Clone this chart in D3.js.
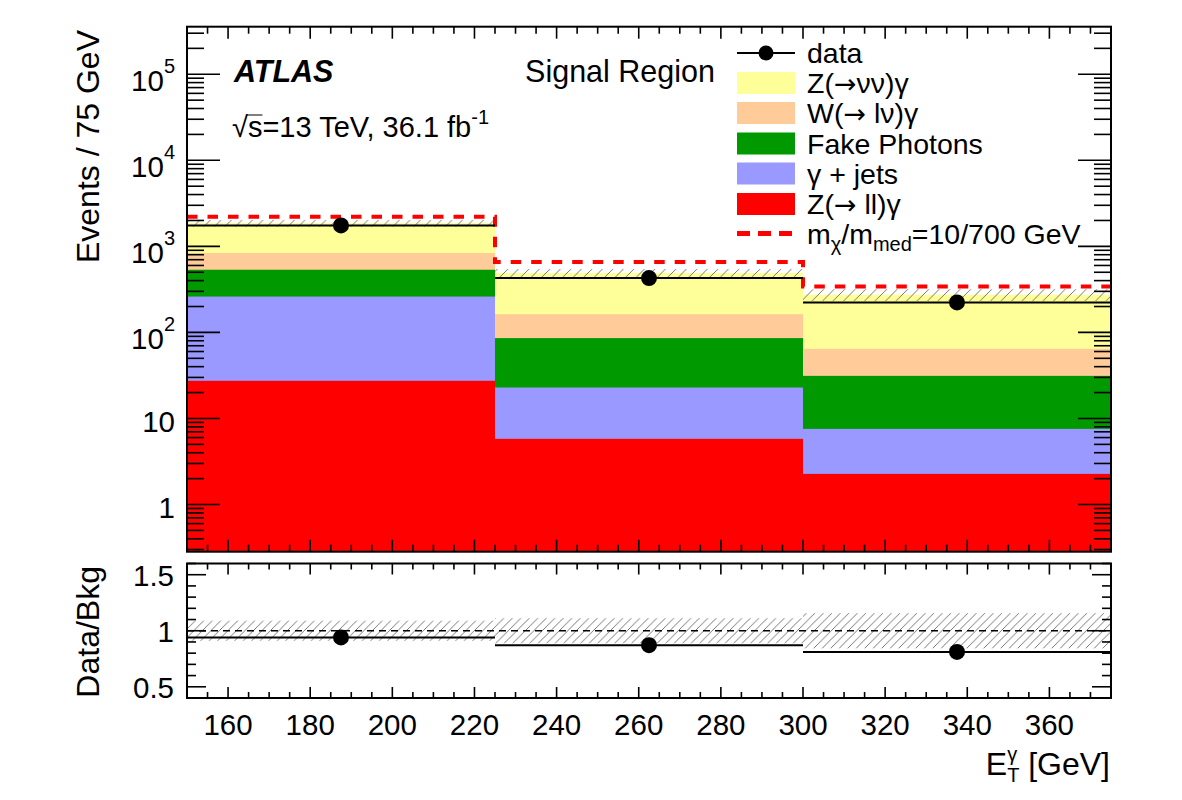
<!DOCTYPE html>
<html>
<head>
<meta charset="utf-8">
<script src="https://cdn.jsdelivr.net/npm/d3@7"></script>
<style>
  html, body { margin: 0; padding: 0; background: #fff; }
  svg { display: block; }
  text { font-family: "Liberation Sans", Arial, Helvetica, sans-serif; fill: #000; }
</style>
</head>
<body>
<script>
// ---------------- data ----------------
const binEdges = [150, 225, 300, 375];
const dataCounts = [1750, 428, 223];
const zllGamma = [27.4, 5.8, 2.27];        // Z(-> ll)gamma
const gammaJets = [233.6, 17.1, 5.3];      // gamma + jets
const fakePhotons = [274, 63.0, 23.7];     // Fake photons
const wlnuGamma = [301, 77.1, 33.2];       // W(-> l nu)gamma
const znunuGamma = [1024, 328, 210.5];     // Z(-> nu nu)gamma
const signalPlusBkg = [2208, 657, 342];    // m_chi/m_med = 10/700 GeV
const bkgRelUnc = [0.09, 0.112, 0.157];
const xTickValues = [160, 180, 200, 220, 240, 260, 280, 300, 320, 340, 360];
const yMainTickExps = [0, 1, 2, 3, 4, 5];
const yRatioTicks = [0.5, 1, 1.5];
// legend labels: [before arrow, arrow?, after arrow]
const legendLabels = [
  ["data"],
  ["Z(", "\u2192", "\u03bd\u03bd)\u03b3"],
  ["W(", "\u2192", " l\u03bd)\u03b3"],
  ["Fake Photons"],
  ["\u03b3 + jets"],
  ["Z(", "\u2192", " ll)\u03b3"]
];

// ---------------- layout ----------------
const W = 1182, H = 800;
const L = 187, R = 1111;
const mainTop = 26.7, mainBot = 551.7;
const ratTop = 563.5, ratBot = 698;
const FONT = 29.5;

const svg = d3.select("body").append("svg").attr("width", W).attr("height", H);

const x = d3.scaleLinear().domain([150, 375]).range([L, R]);
const y = d3.scaleLog().domain([0.283, 3.57e5]).range([mainBot, mainTop]);
const yr = d3.scaleLinear().domain([0.4, 1.6]).range([ratBot, ratTop]);

const colors = {
  zll: "#ff0000", gj: "#9999ff", fake: "#009900", wln: "#ffcc99", znn: "#ffff99"
};

const defs = svg.append("defs");
defs.append("clipPath").attr("id", "clipMain").append("rect")
  .attr("x", L).attr("y", mainTop).attr("width", R - L).attr("height", mainBot - mainTop);
defs.append("clipPath").attr("id", "clipRat").append("rect")
  .attr("x", L).attr("y", ratTop).attr("width", R - L).attr("height", ratBot - ratTop);
function hatch(id, s) {
  const p = defs.append("pattern").attr("id", id).attr("patternUnits", "userSpaceOnUse")
    .attr("width", s).attr("height", s);
  p.append("path").attr("d", `M0,${s} L${s},0 M${-s/2},${s/2} L${s/2},${-s/2} M${s/2},${s*1.5} L${s*1.5},${s/2}`)
    .attr("stroke", "#555").attr("stroke-width", 0.8);
}
hatch("hatchMain", 10.5);
hatch("hatchRat", 8.5);

// ---------------- stacked histogram ----------------
const bins = dataCounts.map((d, i) => ({ i, x0: binEdges[i], x1: binEdges[i + 1] }));
const stackOrder = [
  { key: "zll", vals: zllGamma },
  { key: "gj", vals: gammaJets },
  { key: "fake", vals: fakePhotons },
  { key: "wln", vals: wlnuGamma },
  { key: "znn", vals: znunuGamma }
];
const gMain = svg.append("g").attr("clip-path", "url(#clipMain)");
const totals = bins.map(() => 0);
const layers = stackOrder.map(s => {
  return bins.map((b, i) => {
    const lo = totals[i];
    totals[i] += s.vals[i];
    return { key: s.key, x0: b.x0, x1: b.x1, lo, hi: totals[i] };
  });
});
layers.slice().reverse().forEach(layer => {
  gMain.selectAll(null).data(layer).enter().append("rect")
    .attr("x", d => x(d.x0))
    .attr("width", d => x(d.x1) - x(d.x0))
    .attr("y", d => y(d.hi))
    .attr("height", d => mainBot - y(d.hi))
    .attr("fill", d => colors[d.key]);
});

// uncertainty band on main
gMain.selectAll(null).data(bins).enter().append("rect")
  .attr("x", d => x(d.x0)).attr("width", d => x(d.x1) - x(d.x0))
  .attr("y", d => y(totals[d.i] * (1 + bkgRelUnc[d.i])))
  .attr("height", d => y(totals[d.i] * (1 - bkgRelUnc[d.i])) - y(totals[d.i] * (1 + bkgRelUnc[d.i])))
  .attr("fill", "url(#hatchMain)");

// signal step line
const sigPts = [];
bins.forEach((b, i) => { sigPts.push([x(b.x0), y(signalPlusBkg[i])]); sigPts.push([x(b.x1), y(signalPlusBkg[i])]); });
gMain.append("path").attr("d", d3.line()(sigPts))
  .attr("fill", "none").attr("stroke", "#ff0000").attr("stroke-width", 4)
  .attr("stroke-dasharray", "10.5,10");

// data
gMain.selectAll(null).data(bins).enter().append("line")
  .attr("x1", d => x(d.x0)).attr("x2", d => x(d.x1))
  .attr("y1", d => y(dataCounts[d.i])).attr("y2", d => y(dataCounts[d.i]))
  .attr("stroke", "#000").attr("stroke-width", 2);
gMain.selectAll(null).data(bins).enter().append("circle")
  .attr("cx", d => x((d.x0 + d.x1) / 2)).attr("cy", d => y(dataCounts[d.i]))
  .attr("r", 8).attr("fill", "#000");

// ---------------- ratio panel ----------------
const gRat = svg.append("g").attr("clip-path", "url(#clipRat)");
gRat.selectAll(null).data(bins).enter().append("rect")
  .attr("x", d => x(d.x0)).attr("width", d => x(d.x1) - x(d.x0))
  .attr("y", d => yr(1 + bkgRelUnc[d.i]))
  .attr("height", d => yr(1 - bkgRelUnc[d.i]) - yr(1 + bkgRelUnc[d.i]))
  .attr("fill", "url(#hatchRat)");
gRat.append("line").attr("x1", L).attr("x2", R).attr("y1", yr(1)).attr("y2", yr(1))
  .attr("stroke", "#000").attr("stroke-width", 1.6).attr("stroke-dasharray", "7,5");
const ratio = bins.map((b, i) => dataCounts[i] / totals[i]);
gRat.selectAll(null).data(bins).enter().append("line")
  .attr("x1", d => x(d.x0)).attr("x2", d => x(d.x1))
  .attr("y1", d => yr(ratio[d.i])).attr("y2", d => yr(ratio[d.i]))
  .attr("stroke", "#000").attr("stroke-width", 2);
gRat.selectAll(null).data(bins).enter().append("circle")
  .attr("cx", d => x((d.x0 + d.x1) / 2)).attr("cy", d => yr(ratio[d.i]))
  .attr("r", 8).attr("fill", "#000");

// ---------------- axes / ticks ----------------
const axG = svg.append("g").attr("stroke", "#000");
function tickLine(x1, y1, x2, y2, w) {
  axG.append("line").attr("x1", x1).attr("y1", y1).attr("x2", x2).attr("y2", y2)
    .attr("stroke-width", w || 1.6);
}
// x ticks (all panels, top and bottom)
const xMinor = d3.range(150, 376, 5);
[[mainTop, mainBot, 12, 7], [ratTop, ratBot, 11, 6]].forEach(([t, b, maj, min]) => {
  xMinor.forEach(v => {
    const len = (v % 20 === 0) ? maj : min;
    const px = x(v);
    tickLine(px, b, px, b - len);
    tickLine(px, t, px, t + len);
  });
});
// main y ticks (log)
const yMinorVals = [];
for (let e = -1; e <= 5; e++) for (let k = 1; k <= 9; k++) {
  const v = k * Math.pow(10, e);
  if (v >= 0.283 && v <= 3.57e5) yMinorVals.push({ v, major: k === 1 });
}
yMinorVals.forEach(t => {
  const len = t.major ? 33 : 17;
  const py = y(t.v);
  tickLine(L, py, L + len, py);
  tickLine(R, py, R - len, py);
});
// ratio y ticks
d3.range(4, 17).map(k => k / 10).forEach(v => {
  const len = (Math.abs(v * 2 - Math.round(v * 2)) < 1e-6) ? 19 : 9;
  const py = yr(v);
  tickLine(L, py, L + len, py);
  tickLine(R, py, R - len, py);
});
// frames
[[mainTop, mainBot], [ratTop, ratBot]].forEach(([t, b]) => {
  svg.append("rect").attr("x", L).attr("y", t).attr("width", R - L).attr("height", b - t)
    .attr("fill", "none").attr("stroke", "#000").attr("stroke-width", 2);
});

// tick labels
const lab = svg.append("g");
xTickValues.forEach(v => {
  lab.append("text").attr("x", x(v)).attr("y", 735).attr("text-anchor", "middle")
    .attr("font-size", FONT).text(v);
});
yMainTickExps.forEach(e => {
  const py = y(Math.pow(10, e));
  const t = lab.append("text").attr("x", 175).attr("text-anchor", "end").attr("font-size", FONT);
  if (e === 0) { t.attr("y", py + 13).text("1"); }
  else if (e === 1) { t.attr("y", py + 14).text("10"); }
  else {
    t.attr("y", py + 17);
    t.append("tspan").text("10");
    t.append("tspan").attr("dy", -18).attr("font-size", 20).text(e);
  }
});
yRatioTicks.forEach(v => {
  lab.append("text").attr("x", 174).attr("y", yr(v) + 11).attr("text-anchor", "end")
    .attr("font-size", FONT).text(v === 1 ? "1" : v);
});

// axis titles
lab.append("text").attr("transform", "translate(99,30) rotate(-90)").attr("text-anchor", "end")
  .attr("font-size", 32).text("Events / 75 GeV");
lab.append("text").attr("transform", "translate(99,566) rotate(-90)").attr("text-anchor", "end")
  .attr("font-size", 32).text("Data/Bkg");
const gev = lab.append("text").attr("x", 1110).attr("y", 775).attr("text-anchor", "end")
  .attr("font-size", 32).text("[GeV]");
const gevW = gev.node().getComputedTextLength();
const subX = 1110 - gevW - 21;
lab.append("text").attr("x", subX).attr("y", 782).attr("font-size", 20).text("T");
lab.append("text").attr("x", subX).attr("y", 761).attr("font-size", 20).text("\u03b3");
lab.append("text").attr("x", subX).attr("y", 775).attr("text-anchor", "end")
  .attr("font-size", 32).text("E");

// ---------------- annotations ----------------
lab.append("text").attr("x", 234).attr("y", 82).attr("font-size", 30.5)
  .attr("font-weight", "bold").attr("font-style", "italic").text("ATLAS");
lab.append("text").attr("x", 715).attr("y", 82).attr("text-anchor", "end")
  .attr("font-size", 30.5).text("Signal Region");
const sq = lab.append("text").attr("x", 232).attr("y", 137).attr("font-size", 29);
sq.append("tspan").text("\u221as=13 TeV, 36.1 fb");
sq.append("tspan").attr("dy", -13).attr("font-size", 20).text("-1");
try {
  const n = sq.node();
  const s0 = n.getStartPositionOfChar(1), s1 = n.getEndPositionOfChar(1);
  lab.append("line").attr("x1", s0.x - 1).attr("x2", s1.x).attr("y1", 115).attr("y2", 115)
    .attr("stroke", "#000").attr("stroke-width", 1);
} catch (e) {}

// ---------------- legend ----------------
const leg = svg.append("g");
const legX0 = 737, legX1 = 795, legTextX = 807;
const rowY = [53, 83, 113, 143.5, 173.5, 204, 233.5];
const legColors = [null, colors.znn, colors.wln, colors.fake, colors.gj, colors.zll];
legendLabels.forEach((parts, i) => {
  const cy = rowY[i];
  if (i === 0) {
    leg.append("line").attr("x1", legX0).attr("x2", legX1).attr("y1", cy).attr("y2", cy)
      .attr("stroke", "#000").attr("stroke-width", 2);
    leg.append("circle").attr("cx", (legX0 + legX1) / 2).attr("cy", cy).attr("r", 7.5).attr("fill", "#000");
  } else {
    leg.append("rect").attr("x", legX0).attr("y", cy - 11).attr("width", legX1 - legX0).attr("height", 22)
      .attr("fill", legColors[i]);
  }
  const t = leg.append("text").attr("x", legTextX).attr("y", cy + 10).attr("font-size", 28.5);
  parts.forEach((p, k) => {
    const ts = t.append("tspan").text(p);
    if (p === "\u2192") ts.attr("font-family", "DejaVu Sans").attr("font-size", 27);
  });
});
// signal legend entry
leg.append("line").attr("x1", legX0).attr("x2", legX1).attr("y1", rowY[6]).attr("y2", rowY[6])
  .attr("stroke", "#ff0000").attr("stroke-width", 5).attr("stroke-dasharray", "13,8");
const sl = leg.append("text").attr("x", legTextX).attr("y", rowY[6] + 10).attr("font-size", 28.5);
sl.append("tspan").text("m");
sl.append("tspan").attr("dy", 7).attr("font-size", 20).text("\u03c7");
sl.append("tspan").attr("dy", -7).text("/m");
sl.append("tspan").attr("dy", 7).attr("font-size", 20).text("med");
sl.append("tspan").attr("dy", -7).text("=10/700 GeV");
</script>
</body>
</html>
